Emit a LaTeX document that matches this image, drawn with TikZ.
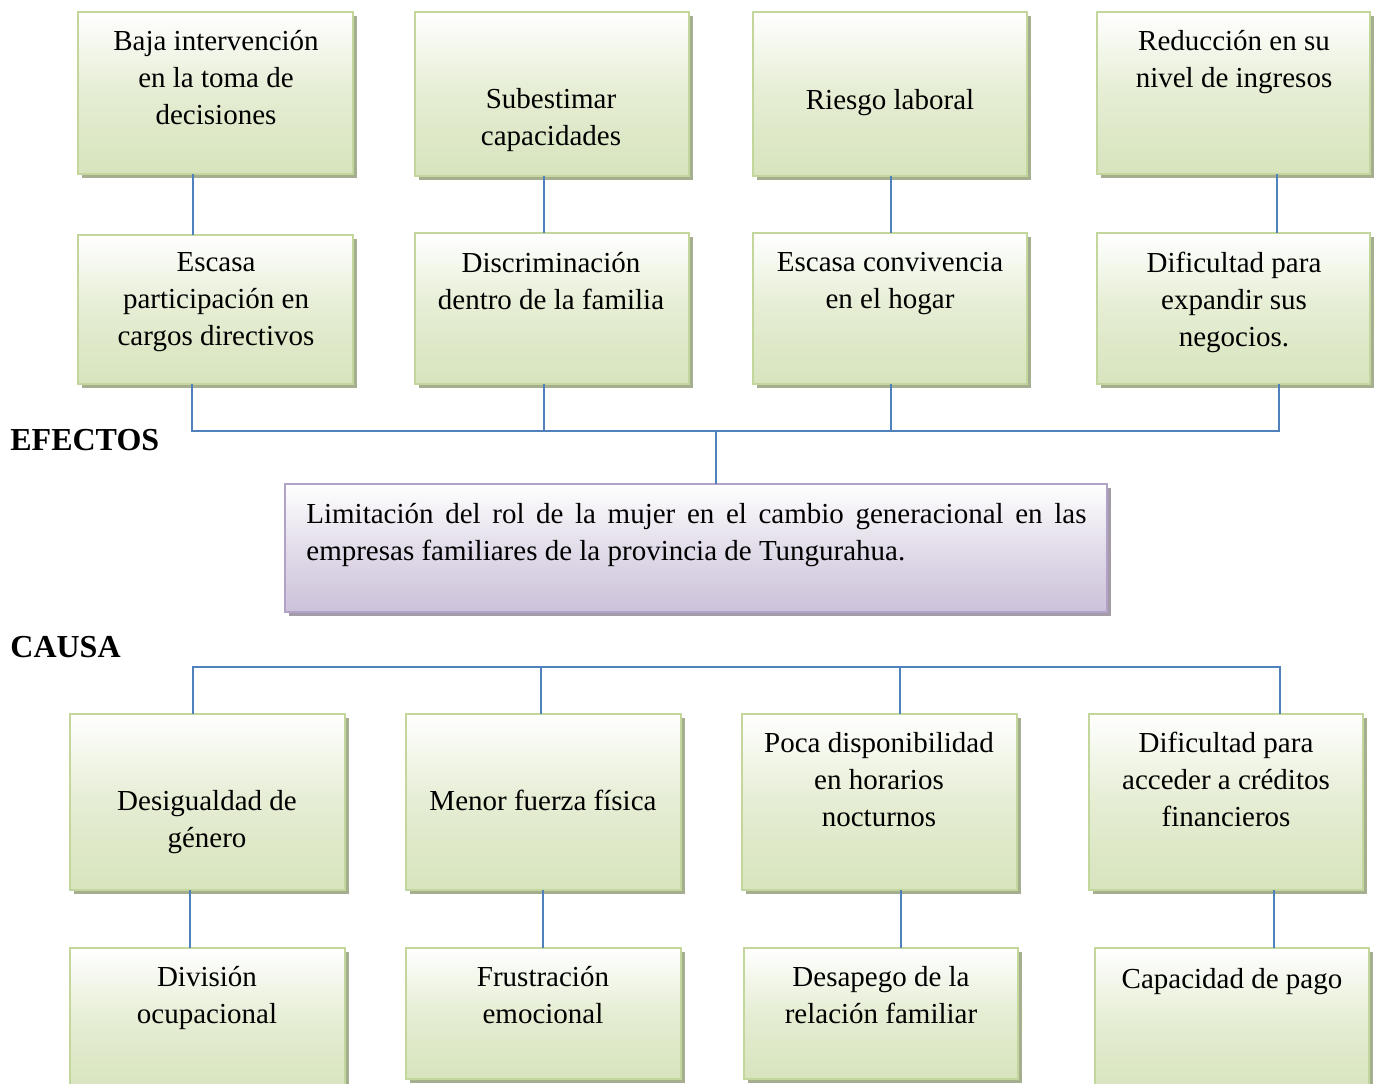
\documentclass[tikz,border=0pt]{standalone}
\usepackage{fontspec}
\setmainfont{Liberation Serif}
\usetikzlibrary{shadows}
\definecolor{gborder}{HTML}{C3D69B}
\definecolor{gfill}{HTML}{D7E4BD}
\definecolor{gmid}{HTML}{E5EDD3}
\definecolor{gshadow}{HTML}{A5AE8E}
\definecolor{pborder}{HTML}{B3A2C7}
\definecolor{pfill}{HTML}{CCC1DA}
\definecolor{pmid}{HTML}{E2DCE9}
\definecolor{pshadow}{HTML}{A39BA8}
\definecolor{connc}{HTML}{4F81BD}
\newcommand\mkbox[6]{\node[#6, minimum width={(#4-#2)*0.5pt}, minimum height={(#5-#3)*0.5pt}] (#1) at (#2,#3) {};}
\begin{document}
\begin{tikzpicture}[x=0.5pt,y=-0.5pt,
  gbox/.style={draw=gborder, line width=1pt, top color=white, bottom color=gfill, middle color=gmid,
    inner sep=0pt, outer sep=0pt, anchor=north west,
    general shadow={fill=gshadow, shadow xshift=2.2pt, shadow yshift=-2.2pt}},
  pbox/.style={draw=pborder, line width=1pt, top color=white, bottom color=pfill, middle color=pmid,
    inner sep=0pt, outer sep=0pt, anchor=north west,
    general shadow={fill=pshadow, shadow xshift=2.2pt, shadow yshift=-2.2pt}},
  txt/.style={anchor=north, inner sep=0pt, align=center, font=\fontsize{14.5}{18.5}\selectfont},
  head/.style={anchor=west, inner sep=0pt, font=\fontsize{16}{19}\selectfont\bfseries},
  conn/.style={draw=connc, line width=0.8pt}]
\useasboundingbox (0,0) rectangle (1381,1083);
% effect boxes
\mkbox{b1}{78}{12}{353}{174}{gbox}
\mkbox{b2}{415}{12}{689}{176}{gbox}
\mkbox{b3}{753}{12}{1027}{176}{gbox}
\mkbox{b4}{1097}{12}{1370}{174}{gbox}
\mkbox{c1}{78}{235}{353}{384}{gbox}
\mkbox{c2}{415}{233}{689}{384}{gbox}
\mkbox{c3}{753}{233}{1027}{384}{gbox}
\mkbox{c4}{1097}{233}{1370}{384}{gbox}
% main box
\mkbox{main}{285}{484}{1107}{612}{pbox}
% cause boxes
\mkbox{d1}{70}{714}{345}{890}{gbox}
\mkbox{d2}{406}{714}{681}{890}{gbox}
\mkbox{d3}{742}{714}{1017}{890}{gbox}
\mkbox{d4}{1089}{714}{1363}{890}{gbox}
\mkbox{e1}{70}{948}{345}{1095}{gbox}
\mkbox{e2}{406}{948}{681}{1079}{gbox}
\mkbox{e3}{744}{948}{1018}{1079}{gbox}
\mkbox{e4}{1095}{948}{1369}{1095}{gbox}
% texts
\node[txt] (tb1) at (216,30) {Baja intervención\\en la toma de\\decisiones};
\node[txt] (tb2) at (551,88) {Subestimar\\capacidades};
\node[txt] (tb3) at (890,89) {Riesgo laboral};
\node[txt] (tb4) at (1234,30) {Reducción en su\\nivel de ingresos};
\node[txt] (tc1) at (216,252) {Escasa\\participación en\\cargos directivos};
\node[txt] (tc2) at (551,252) {Discriminación\\dentro de la familia};
\node[txt] (tc3) at (890,252) {Escasa convivencia\\en el hogar};
\node[txt] (tc4) at (1234,252) {Dificultad para\\expandir sus\\negocios.};
\node[txt, anchor=north west, align=left] (tmain) at (306,503)
  {\makebox[390pt][s]{Limitación del rol de la mujer en el cambio generacional en las}\\empresas familiares de la provincia de Tungurahua.};
\node[txt] (td1) at (207,790) {Desigualdad de\\género};
\node[txt] (td2) at (543,790) {Menor fuerza física};
\node[txt] (td3) at (879,732) {Poca disponibilidad\\en horarios\\nocturnos};
\node[txt] (td4) at (1226,732) {Dificultad para\\acceder a créditos\\financieros};
\node[txt] (te1) at (207,966) {División\\ocupacional};
\node[txt] (te2) at (543,966) {Frustración\\emocional};
\node[txt] (te3) at (881,966) {Desapego de la\\relación familiar};
\node[txt] (te4) at (1232,968) {Capacidad de pago};
% headings
\node[head] (hef) at (10,440) {EFECTOS};
\node[head] (hca) at (10,647) {CAUSA};
% connector coordinates
\coordinate (xa) at (193,0); \coordinate (xb) at (544,0);
\coordinate (xc) at (891,0); \coordinate (xd) at (1277,0);
\coordinate (ya) at (192,0); \coordinate (yb) at (544,0);
\coordinate (yc) at (891,0); \coordinate (yd) at (1279,0);
\coordinate (ym) at (716,0); \coordinate (eb) at (0,431);
\coordinate (ka) at (193,0); \coordinate (kb) at (541,0);
\coordinate (kc) at (900,0); \coordinate (kd) at (1280,0);
\coordinate (cb) at (0,667);
\coordinate (ma) at (190,0); \coordinate (mb) at (543,0);
\coordinate (mc) at (901,0); \coordinate (md) at (1274,0);
% effect connectors
\draw[conn] (b1.south -| xa) -- (c1.north -| xa);
\draw[conn] (b2.south -| xb) -- (c2.north -| xb);
\draw[conn] (b3.south -| xc) -- (c3.north -| xc);
\draw[conn] (b4.south -| xd) -- (c4.north -| xd);
\draw[conn] (c1.south -| ya) -- (ya |- eb) -- (yd |- eb) -- (c4.south -| yd);
\draw[conn] (c2.south -| yb) -- (yb |- eb);
\draw[conn] (c3.south -| yc) -- (yc |- eb);
\draw[conn] (main.north -| ym) -- (ym |- eb);
% cause connectors
\draw[conn] (d1.north -| ka) -- (ka |- cb) -- (kd |- cb) -- (d4.north -| kd);
\draw[conn] (d2.north -| kb) -- (kb |- cb);
\draw[conn] (d3.north -| kc) -- (kc |- cb);
\draw[conn] (d1.south -| ma) -- (e1.north -| ma);
\draw[conn] (d2.south -| mb) -- (e2.north -| mb);
\draw[conn] (d3.south -| mc) -- (e3.north -| mc);
\draw[conn] (d4.south -| md) -- (e4.north -| md);
\end{tikzpicture}
\end{document}
